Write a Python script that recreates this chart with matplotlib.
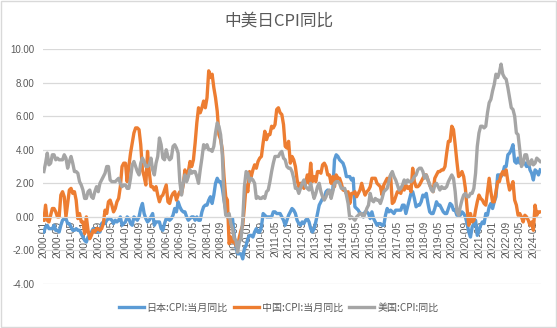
import numpy as np
import pandas as pd
import matplotlib
matplotlib.use("Agg")
import matplotlib.pyplot as plt
from matplotlib.patches import Rectangle

plt.rcParams['font.family'] = ['Noto Sans CJK SC', 'DejaVu Sans']

# monthly year-on-year CPI, 2000-01 .. 2024-05
japan = [
    -0.9, -0.6, -0.5, -0.7, -0.7, -0.7, -0.5, -0.8, -0.8, -0.9, -0.5, -0.2,
    -0.1, -0.1, -0.4, -0.4, -0.6, -0.8, -0.8, -0.7, -0.8, -0.8, -1.0, -1.2,
    -1.4, -1.5, -1.2, -1.1, -0.9, -0.7, -0.8, -0.9, -0.7, -0.9, -0.4, -0.3,
    -0.4, -0.2, -0.1, -0.1, -0.2, -0.4, -0.2, -0.3, -0.2, 0.0, -0.5, -0.4,
    -0.3, 0.0, -0.1, -0.4, -0.5, 0.0, -0.1, -0.2, 0.0, 0.5, 0.8, 0.2,
    -0.1, -0.3, -0.2, 0.0, 0.2, -0.5, -0.3, -0.3, -0.3, -0.7, -0.8, -0.4,
    -0.1, -0.1, -0.2, -0.1, 0.1, 0.5, 0.3, 0.9, 0.6, 0.4, 0.3, 0.3,
    0.0, -0.2, -0.1, 0.0, 0.0, -0.2, 0.0, -0.2, -0.2, 0.3, 0.6, 0.7,
    0.7, 1.0, 1.2, 0.8, 1.3, 2.0, 2.3, 2.1, 2.1, 1.7, 1.0, 0.4,
    0.0, -0.1, -0.3, -0.1, -1.1, -1.8, -2.2, -2.2, -2.2, -2.5, -1.9, -1.7,
    -1.3, -1.1, -1.1, -1.2, -0.9, -0.7, -0.9, -0.9, -0.6, 0.2, 0.1, 0.0,
    0.0, 0.0, 0.0, 0.3, 0.3, 0.2, 0.2, 0.2, 0.0, -0.2, -0.5, -0.2,
    0.1, 0.3, 0.5, 0.4, 0.2, -0.2, -0.4, -0.5, -0.3, -0.4, -0.2, -0.1,
    -0.3, -0.7, -0.9, -0.7, -0.3, 0.2, 0.7, 0.9, 1.1, 1.1, 1.5, 1.6,
    1.4, 1.5, 1.6, 3.4, 3.7, 3.6, 3.4, 3.3, 3.2, 2.9, 2.4, 2.4,
    2.4, 2.2, 2.3, 0.6, 0.5, 0.4, 0.2, 0.2, 0.0, 0.3, 0.3, 0.2,
    -0.1, 0.3, -0.1, -0.3, -0.5, -0.4, -0.4, -0.5, -0.5, 0.1, 0.5, 0.3,
    0.4, 0.3, 0.2, 0.4, 0.4, 0.4, 0.4, 0.7, 0.7, 0.2, 0.6, 1.0,
    1.4, 1.5, 1.1, 0.6, 0.7, 0.7, 0.9, 1.3, 1.2, 1.4, 0.8, 0.3,
    0.2, 0.2, 0.5, 0.9, 0.7, 0.7, 0.5, 0.3, 0.2, 0.2, 0.5, 0.8,
    0.7, 0.4, 0.4, 0.1, 0.1, 0.1, 0.3, 0.2, 0.0, -0.4, -0.9, -1.2,
    -0.6, -0.4, -0.2, -1.1, -0.8, -0.5, -0.3, -0.4, 0.2, 0.1, 0.6, 0.8,
    0.5, 0.9, 1.2, 2.5, 2.5, 2.4, 2.6, 3.0, 3.0, 3.7, 3.8, 4.0,
    4.3, 3.3, 3.2, 3.5, 3.2, 3.3, 3.3, 3.2, 3.0, 3.3, 2.8, 2.6,
    2.2, 2.8, 2.7, 2.5, 2.8,
]
china = [
    -0.2, 0.7, -0.2, -0.3, 0.1, 0.5, 0.5, 0.3, 0.0, 0.0, 1.3, 1.5,
    1.2, 0.0, 0.8, 1.6, 1.7, 1.4, 1.5, 1.0, -0.1, 0.2, -0.3, -0.3,
    -1.0, 0.0, -0.8, -1.3, -1.1, -0.8, -0.9, -0.7, -0.7, -0.8, -0.7, -0.4,
    0.4, 0.2, 0.9, 1.0, 0.7, 0.3, 0.5, 0.9, 1.1, 1.8, 3.0, 3.2,
    3.2, 2.1, 3.0, 3.8, 4.4, 5.0, 5.3, 5.3, 5.2, 4.3, 2.8, 2.4,
    1.9, 3.9, 2.7, 1.8, 1.8, 1.6, 1.8, 1.3, 0.9, 1.2, 1.3, 1.6,
    1.9, 0.9, 0.8, 1.2, 1.4, 1.5, 1.0, 1.3, 1.5, 1.4, 1.9, 2.8,
    2.2, 2.7, 3.3, 3.0, 3.4, 4.4, 5.6, 6.5, 6.2, 6.5, 6.9, 6.5,
    7.1, 8.7, 8.3, 8.5, 7.7, 7.1, 6.3, 4.9, 4.6, 4.0, 2.4, 1.2,
    1.0, -1.6, -1.2, -1.5, -1.4, -1.7, -1.8, -1.2, -0.8, -0.5, 0.6, 1.9,
    1.5, 2.7, 2.4, 2.8, 3.1, 2.9, 3.3, 3.5, 3.6, 4.4, 5.1, 4.6,
    4.9, 4.9, 5.4, 5.3, 5.5, 6.4, 6.5, 6.2, 6.1, 5.5, 4.2, 4.1,
    4.5, 3.2, 3.6, 3.4, 3.0, 2.2, 1.8, 2.0, 1.9, 1.7, 2.0, 2.5,
    2.0, 3.2, 2.1, 2.4, 2.1, 2.7, 2.7, 2.6, 3.1, 3.2, 3.0, 2.5,
    2.5, 2.0, 2.4, 1.8, 2.5, 2.3, 2.3, 2.0, 1.6, 1.6, 1.4, 1.5,
    0.8, 1.4, 1.4, 1.5, 1.2, 1.4, 1.6, 2.0, 1.6, 1.3, 1.5, 1.6,
    1.8, 2.3, 2.3, 2.3, 2.0, 1.9, 1.8, 1.3, 1.9, 2.1, 2.3, 2.1,
    2.5, 0.8, 0.9, 1.2, 1.5, 1.5, 1.4, 1.8, 1.6, 1.9, 1.7, 1.8,
    1.5, 2.9, 2.1, 1.8, 1.8, 1.9, 2.1, 2.3, 2.5, 2.5, 2.2, 1.9,
    1.7, 1.5, 2.3, 2.5, 2.7, 2.7, 2.8, 2.8, 3.0, 3.8, 4.5, 4.5,
    5.4, 5.2, 4.3, 3.3, 2.4, 2.5, 2.7, 2.4, 1.7, 0.5, -0.5, 0.2,
    -0.3, -0.2, 0.4, 0.9, 1.3, 1.1, 1.0, 0.8, 0.7, 1.5, 2.3, 1.5,
    0.9, 0.9, 1.5, 2.1, 2.1, 2.5, 2.7, 2.5, 2.8, 2.1, 1.6, 1.8,
    2.1, 1.0, 0.7, 0.1, 0.2, 0.0, -0.3, 0.1, 0.0, -0.2, -0.5, -0.3,
    -0.8, 0.7, 0.1, 0.3, 0.3,
]
usa = [
    2.7, 3.2, 3.8, 3.1, 3.2, 3.7, 3.7, 3.4, 3.5, 3.4, 3.4, 3.4,
    3.7, 3.5, 2.9, 3.3, 3.6, 3.2, 2.7, 2.7, 2.6, 2.1, 1.9, 1.6,
    1.1, 1.1, 1.5, 1.6, 1.2, 1.1, 1.5, 1.8, 1.5, 2.0, 2.2, 2.4,
    2.6, 3.0, 3.0, 2.2, 2.1, 2.1, 2.1, 2.2, 2.3, 2.0, 1.8, 1.9,
    1.9, 1.7, 1.7, 2.3, 3.1, 3.3, 3.0, 2.7, 2.5, 3.2, 3.5, 3.3,
    3.0, 3.0, 3.1, 3.5, 2.8, 2.5, 3.2, 3.6, 4.7, 4.3, 3.5, 3.4,
    4.0, 3.6, 3.4, 3.5, 4.2, 4.3, 4.1, 3.8, 2.1, 1.3, 2.0, 2.5,
    2.1, 2.4, 2.8, 2.6, 2.7, 2.7, 2.4, 2.0, 2.8, 3.5, 4.3, 4.1,
    4.3, 4.0, 4.0, 3.9, 4.2, 5.0, 5.6, 5.4, 4.9, 3.7, 1.1, 0.1,
    0.0, 0.2, -0.4, -0.7, -1.3, -1.4, -2.1, -1.5, -1.3, -0.2, 1.8, 2.7,
    2.6, 2.1, 2.3, 2.2, 2.0, 1.1, 1.2, 1.1, 1.1, 1.2, 1.1, 1.5,
    1.6, 2.1, 2.7, 3.2, 3.6, 3.6, 3.6, 3.8, 3.9, 3.5, 3.4, 3.0,
    2.9, 2.9, 2.7, 2.3, 1.7, 1.7, 1.4, 1.7, 2.0, 2.2, 1.8, 1.7,
    1.6, 2.0, 1.5, 1.1, 1.4, 1.8, 2.0, 1.5, 1.2, 1.0, 1.2, 1.5,
    1.6, 1.1, 1.5, 2.0, 2.1, 2.1, 2.0, 1.7, 1.7, 1.7, 1.3, 0.8,
    -0.1, 0.0, -0.1, -0.2, 0.0, 0.1, 0.2, 0.2, 0.0, 0.2, 0.5, 0.7,
    1.4, 1.0, 0.9, 1.1, 1.0, 1.0, 0.8, 1.1, 1.5, 1.6, 1.7, 2.1,
    2.5, 2.7, 2.4, 2.2, 1.9, 1.6, 1.7, 1.9, 2.2, 2.0, 2.2, 2.1,
    2.1, 2.2, 2.4, 2.5, 2.8, 2.9, 2.9, 2.7, 2.3, 2.5, 2.2, 1.9,
    1.6, 1.5, 1.9, 2.0, 1.8, 1.6, 1.8, 1.7, 1.7, 1.8, 2.1, 2.3,
    2.5, 2.3, 1.5, 0.3, 0.1, 0.6, 1.0, 1.3, 1.4, 1.2, 1.2, 1.4,
    1.4, 1.7, 2.6, 4.2, 5.0, 5.4, 5.4, 5.3, 5.4, 6.2, 6.8, 7.0,
    7.5, 7.9, 8.5, 8.3, 8.6, 9.1, 8.5, 8.3, 8.2, 7.7, 7.1, 6.5,
    6.4, 6.0, 5.0, 4.9, 4.0, 3.0, 3.2, 3.7, 3.7, 3.2, 3.1, 3.4,
    3.1, 3.2, 3.5, 3.4, 3.3,
]
months = pd.date_range("2000-01", periods=len(usa), freq="MS").strftime("%Y-%m").tolist()
series_names = ["日本:CPI:当月同比", "中国:CPI:当月同比", "美国:CPI:同比"]
colors = ["#5B9BD5", "#ED7D31", "#A5A5A5"]

fig = plt.figure(figsize=(5.57, 3.28), dpi=100)
ax = fig.add_axes([0.0772, 0.134, 0.8941, 0.7166])

x = np.arange(len(months))
for vals, name, c in zip([japan, china, usa], series_names, colors):
    ax.plot(x, vals, color=c, lw=2.4, label=name, solid_joinstyle="round")

ax.set_xlim(-0.5, len(months) - 0.5)
ax.set_ylim(-4, 10)
ax.set_yticks(np.arange(-4, 10.1, 2))
ax.set_yticklabels([f"{v:.2f}" for v in np.arange(-4, 10.1, 2)])
ax.yaxis.grid(True, color="#D9D9D9", lw=0.9)
ax.set_axisbelow(True)

ax.set_xticks(x[::8])
ax.set_xticklabels(months[::8])
ax.spines["bottom"].set_position(("data", 0))
ax.spines["bottom"].set_color("#D9D9D9")
for s in ["top", "right", "left"]:
    ax.spines[s].set_visible(False)
ax.tick_params(axis="x", length=0, pad=3, labelsize=7.3, labelcolor="#595959",
               labelrotation=90)
ax.tick_params(axis="y", length=0, pad=6, labelsize=7, labelcolor="#595959")
for t in ax.get_xticklabels() + ax.get_yticklabels():
    t.set_family(["Liberation Sans", "DejaVu Sans"])

fig.text(0.5, 0.935, "中美日CPI同比", ha="center", va="center",
         fontsize=12, color="#595959")

fig.legend(loc="center", bbox_to_anchor=(0.5, 0.062), ncol=3, frameon=False,
           fontsize=7.2, labelcolor="#595959", handlelength=2.5, columnspacing=0.6,
           handletextpad=0.3)

fig.patches.append(Rectangle((0.002, 0.003), 0.996, 0.994, transform=fig.transFigure,
                             fill=False, edgecolor="#D9D9D9", lw=1))

fig.savefig("out.png", dpi=100)
